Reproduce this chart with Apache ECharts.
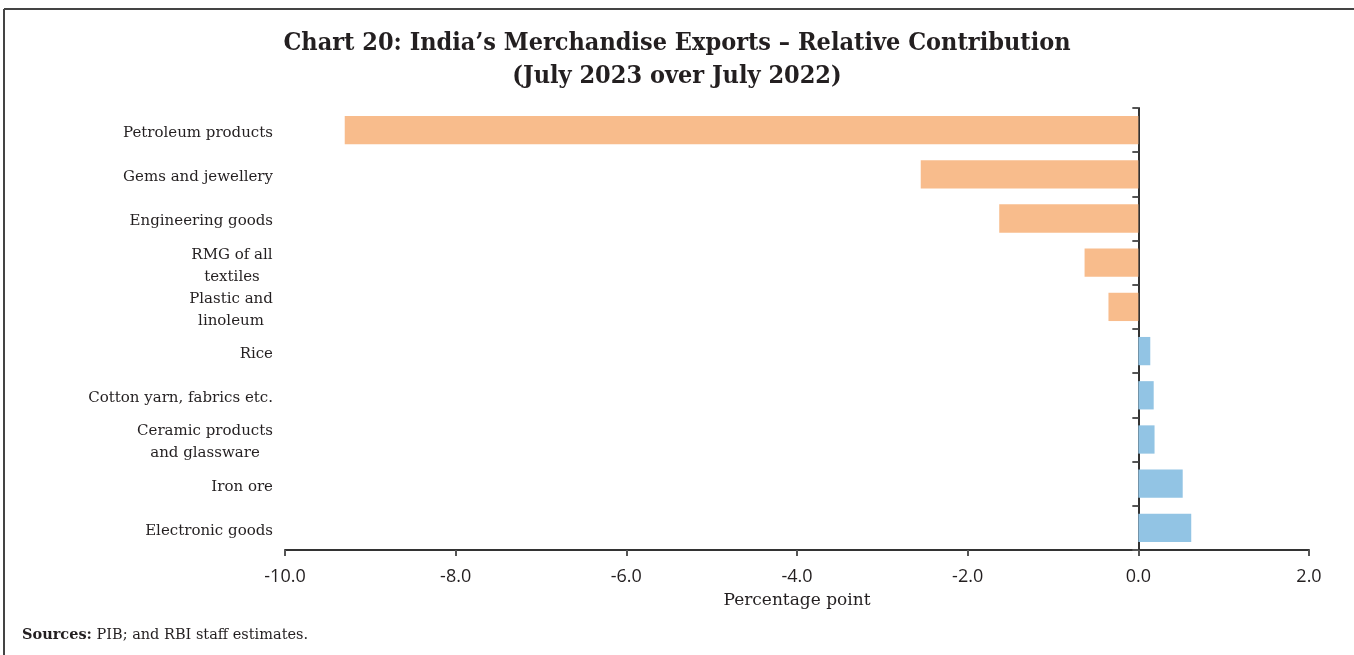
<!DOCTYPE html>
<html>
<head>
<meta charset="utf-8">
<title>India's Merchandise Exports – Relative Contribution</title>
<script src="https://cdn.jsdelivr.net/npm/echarts@6/dist/echarts.min.js"></script>
<style>
  html, body { margin: 0; padding: 0; background: #fff; }
  #chart { width: 1354px; height: 655px; }
</style>
</head>
<body>
<div id="chart"></div>
<script>
// Export groups, listed top to bottom
const categories = [
  'Petroleum products',
  'Gems and jewellery',
  'Engineering goods',
  'RMG of all\ntextiles',
  'Plastic and\nlinoleum',
  'Rice',
  'Cotton yarn, fabrics etc.',
  'Ceramic products\nand glassware',
  'Iron ore',
  'Electronic goods'
];
// Relative contribution to export growth (percentage points)
const contribution = [-9.30, -2.55, -1.63, -0.63, -0.35, 0.14, 0.18, 0.19, 0.52, 0.62];
const xTicks = { min: -10, max: 2, interval: 2 };

const NEG_COLOR = '#F8BC8C';
const POS_COLOR = '#92C4E4';
const SERIF = '"DejaVu Serif", "Liberation Serif", serif';
const TITLE_FONT = '"DejaVu Serif Condensed", "DejaVu Serif", serif';
const SANS = '"Open Sans", "DejaVu Sans", sans-serif';
const LABEL_FONT_SIZE = 15;
const LABEL_LINE_HEIGHT = 22;

// measure text so that multi-line labels can be centred within their own block
const measureCtx = document.createElement('canvas').getContext('2d');
measureCtx.font = LABEL_FONT_SIZE + 'px ' + SERIF;
function blockWidth(text) {
  return Math.max(...text.split('\n').map(s => measureCtx.measureText(s).width));
}

// one fixed-width, centred rich style per multi-line label
const labelRich = {};
categories.forEach((c, i) => {
  if (c.indexOf('\n') >= 0) {
    labelRich['c' + i] = {
      width: Math.ceil(blockWidth(c)),
      align: 'center',
      fontFamily: SERIF,
      fontSize: LABEL_FONT_SIZE,
      lineHeight: LABEL_LINE_HEIGHT,
      color: '#231f20'
    };
  }
});

const chart = echarts.init(document.getElementById('chart'), null, { renderer: 'canvas' });

chart.setOption({
  backgroundColor: '#fff',
  animation: false,
  title: {
    text: "Chart 20: India’s Merchandise Exports – Relative Contribution\n(July 2023 over July 2022)",
    left: 'center',
    top: 22,
    textStyle: {
      fontFamily: TITLE_FONT,
      fontWeight: 'bold',
      fontSize: 25,
      lineHeight: 33,
      color: '#231f20'
    }
  },
  graphic: [
    { type: 'line', shape: { x1: 4, y1: 9, x2: 1354, y2: 9 }, style: { stroke: '#444', lineWidth: 2 }, silent: true },
    { type: 'line', shape: { x1: 4, y1: 9, x2: 4, y2: 655 }, style: { stroke: '#444', lineWidth: 2 }, silent: true },
    {
      type: 'text',
      left: 22,
      top: 628,
      style: {
        text: '{b|Sources:} PIB; and RBI staff estimates.',
        font: '14.5px ' + SERIF,
        fill: '#231f20',
        rich: {
          b: { fontFamily: SERIF, fontWeight: 'bold', fontSize: 14.5, fill: '#231f20' }
        }
      }
    }
  ],
  grid: { left: 285, right: 45, top: 108, bottom: 105, containLabel: false, outerBoundsMode: 'none' },
  xAxis: {
    type: 'value',
    min: xTicks.min,
    max: xTicks.max,
    interval: xTicks.interval,
    position: 'bottom',
    splitLine: { show: false },
    axisLine: { show: true, onZero: false, lineStyle: { color: '#333', width: 2 } },
    axisTick: { show: true, length: 6, lineStyle: { color: '#555', width: 2 } },
    axisLabel: {
      formatter: v => v.toFixed(1),
      fontFamily: SANS,
      fontSize: 18,
      color: '#231f20',
      margin: 18
    },
    name: 'Percentage point',
    nameLocation: 'middle',
    nameGap: 42,
    nameTextStyle: { fontFamily: SERIF, fontSize: 17, color: '#231f20' }
  },
  yAxis: [
    {
      // category names, set along the left edge of the plot
      type: 'category',
      data: categories,
      inverse: true,
      position: 'left',
      axisLine: { show: false, onZero: false },
      axisTick: { show: false },
      axisLabel: {
        interval: 0,
        margin: 12,
        align: 'right',
        padding: [6, 0, 0, 0],
        color: '#231f20',
        fontFamily: SERIF,
        fontSize: LABEL_FONT_SIZE,
        lineHeight: LABEL_LINE_HEIGHT,
        formatter: function (value, idx) {
          if (value.indexOf('\n') < 0) return value;
          const key = 'c' + idx;
          return value.split('\n').map(line => '{' + key + '|' + line + '}').join('\n');
        },
        rich: labelRich
      }
    },
    {
      // the zero line with its category ticks
      type: 'category',
      data: categories,
      inverse: true,
      position: 'left',
      axisLine: { show: true, onZero: true, lineStyle: { color: '#333', width: 2 } },
      axisTick: { show: true, length: 6, inside: false, lineStyle: { color: '#555', width: 2 } },
      axisLabel: { show: false }
    }
  ],
  series: [{
    type: 'bar',
    yAxisIndex: 0,
    data: contribution.map(v => ({
      value: v,
      itemStyle: { color: v < 0 ? NEG_COLOR : POS_COLOR }
    })),
    barCategoryGap: '36%',
    silent: true
  }]
});
</script>
</body>
</html>
